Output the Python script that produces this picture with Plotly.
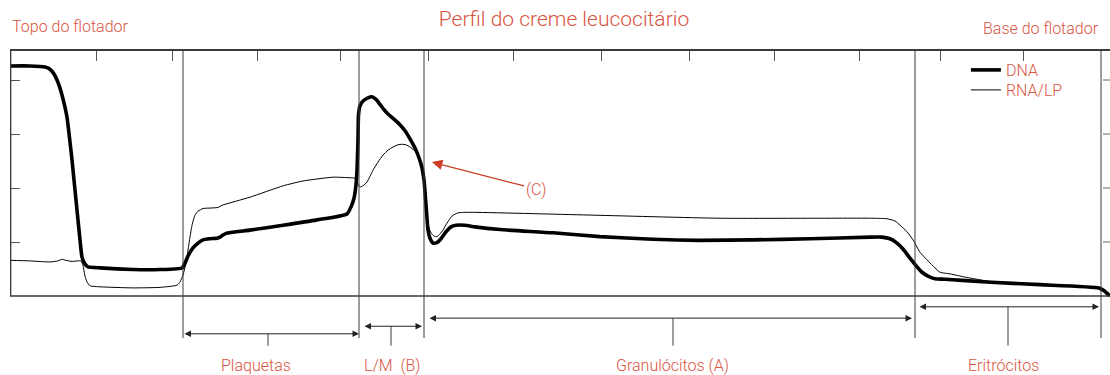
import plotly.graph_objects as go

# ---------------- data ----------------
# position along the float tube (axis units) and signal intensity
pos_dna = [0, 20, 35, 40, 44, 47, 50, 53, 57, 60, 62, 65, 67, 70, 72, 75, 78, 90, 123, 150, 172,
           175, 178, 183, 188, 193, 200, 207, 210, 213, 216, 240, 273, 307, 337, 341, 344, 346,
           347, 348, 348.5, 350, 353, 358, 362, 366, 370, 374, 378, 383, 389, 395, 400, 405,
           409, 412, 414, 415, 416, 417, 418, 420, 423, 427, 431, 436, 441, 446, 455, 465, 490,
           543, 590, 643, 690, 743, 800, 860, 872, 880, 887, 893, 900, 907, 912, 918, 925, 935,
           976, 1030, 1089, 1093, 1100]
dna = [4.26, 4.26, 4.24, 4.20, 4.11, 4.00, 3.85, 3.65, 3.31, 2.85, 2.52, 1.96, 1.59, 1.04, 0.72,
       0.59, 0.54, 0.52, 0.49, 0.49, 0.52, 0.61, 0.74, 0.89, 0.98, 1.04, 1.06, 1.07, 1.09, 1.13,
       1.16, 1.22, 1.31, 1.41, 1.52, 1.65, 1.81, 2.06, 2.33, 2.89, 3.35, 3.52, 3.61, 3.67, 3.69,
       3.64, 3.55, 3.45, 3.37, 3.29, 3.19, 3.06, 2.91, 2.74, 2.56, 2.37, 2.15, 1.93, 1.69, 1.44,
       1.22, 1.07, 0.98, 0.99, 1.06, 1.19, 1.28, 1.31, 1.31, 1.28, 1.23, 1.17, 1.10, 1.05, 1.03,
       1.04, 1.06, 1.09, 1.09, 1.06, 0.98, 0.87, 0.70, 0.54, 0.44, 0.37, 0.32, 0.31, 0.26, 0.21,
       0.15, 0.11, 0.0]

pos_rna = [0, 20, 40, 48, 52, 56, 62, 71, 73, 75, 77, 80, 90, 123, 150, 167, 170, 173, 176,
           178, 180, 182, 185, 188, 193, 202, 208, 212, 240, 273, 293, 323, 340, 345, 348, 350,
           353, 357, 363, 368, 373, 378, 383, 388, 392, 396, 400, 404, 407, 410, 412, 414, 415,
           416, 417, 419, 421, 424, 427, 430, 433, 437, 442, 448, 460, 577, 710, 863, 877, 885,
           890, 897, 903, 910, 918, 925, 930, 940, 955, 970, 980, 1030, 1089]
rna = [0.66, 0.65, 0.63, 0.65, 0.68, 0.66, 0.64, 0.65, 0.56, 0.37, 0.26, 0.19, 0.17, 0.15,
       0.16, 0.20, 0.26, 0.39, 0.61, 0.85, 1.09, 1.31, 1.50, 1.57, 1.62, 1.63, 1.64, 1.68, 1.83,
       2.04, 2.13, 2.20, 2.19, 2.18, 2.07, 2.02, 2.04, 2.11, 2.33, 2.48, 2.61, 2.70, 2.76, 2.80,
       2.81, 2.80, 2.76, 2.70, 2.65, 2.52, 2.39, 2.15, 1.96, 1.69, 1.46, 1.26, 1.17, 1.11, 1.10,
       1.15, 1.22, 1.35, 1.48, 1.54, 1.55, 1.50, 1.44, 1.44, 1.43, 1.39, 1.31, 1.19, 1.04, 0.81,
       0.65, 0.52, 0.44, 0.41, 0.35, 0.30, 0.27, 0.21, 0.15]

top_ticks = [86, 162, 247, 330, 418, 503, 591, 679, 764, 849, 930, 1013]
y_ticks = [1, 2, 3, 4]
boundaries = [173, 349, 414, 905, 1091]

regions = ["Plaquetas", "L/M  (B)", "Granulócitos (A)", "Eritrócitos"]
region_start = [173, 353, 418, 908]
region_end = [349, 412, 902, 1089]
region_level = [-0.70, -0.56, -0.41, -0.20]
region_mark = [258, 381, 663, 998]
region_label_x = [246, 382, 662, 993]

# ---------------- styling ----------------
RED = "#d9543f"
ARROW_RED = "#cc3b24"
FONT = "Roboto, 'Liberation Sans', sans-serif"
Y_TOP = 4.537
Y_BOTTOM = -1.0
X_MAX = 1100
LINE_BOTTOM = -0.78
MARK_BOTTOM = -0.92
LABEL_Y_PAPER = -0.0535
GRAY = "#3a3a3a"
SMALL = 16

fig = go.Figure()
fig.add_trace(go.Scatter(x=pos_rna, y=rna, mode="lines", name="RNA/LP", legend="legend2",
                         line=dict(color="black", width=1, shape="spline", smoothing=0.5)))
fig.add_trace(go.Scatter(x=pos_dna, y=dna, mode="lines", name="DNA", legend="legend",
                         line=dict(color="black", width=3.6, shape="spline", smoothing=0.5)))

shapes = []
for b in boundaries:
    shapes.append(dict(type="line", xref="x", yref="y", x0=b, x1=b, y0=LINE_BOTTOM, y1=Y_TOP,
                       line=dict(color=GRAY, width=1)))
# box: bottom and left borders
shapes.append(dict(type="line", xref="x", yref="y", x0=0, x1=X_MAX, y0=0, y1=0,
                   line=dict(color=GRAY, width=1.5)))
shapes.append(dict(type="line", xref="x", yref="y", x0=0.6, x1=0.6, y0=0, y1=Y_TOP,
                   line=dict(color=GRAY, width=1.5)))
# outer ticks on the right border
for t in y_ticks:
    shapes.append(dict(type="line", xref="x", yref="y", x0=1093, x1=1100, y0=t, y1=t,
                       line=dict(color="#666", width=1)))
# centre marks of the brackets
for m, lv in zip(region_mark, region_level):
    shapes.append(dict(type="line", xref="x", yref="y", x0=m, x1=m, y0=lv, y1=MARK_BOTTOM,
                       line=dict(color=GRAY, width=1)))

annotations = []
for s, e, lv in zip(region_start, region_end, region_level):
    annotations.append(dict(x=e, y=lv, ax=s, ay=lv, xref="x", yref="y", axref="x", ayref="y",
                            text="", showarrow=True, arrowhead=2, startarrowhead=2,
                            arrowside="end+start", arrowsize=1.3, startarrowsize=1.3,
                            arrowwidth=1, arrowcolor="#222", standoff=0, startstandoff=0))
for lab, lx in zip(regions, region_label_x):
    annotations.append(dict(x=lx, y=LABEL_Y_PAPER, xref="x", yref="paper", yanchor="middle",
                            text=lab, showarrow=False,
                            font=dict(family=FONT, size=SMALL, color=RED, weight=300)))

annotations.append(dict(x=422, y=2.48, ax=526, ay=1.98, xref="x", yref="y", axref="x",
                        ayref="y", text="(C)", showarrow=True, arrowhead=2, arrowsize=1.6,
                        arrowwidth=1.3, arrowcolor=ARROW_RED, standoff=0,
                        font=dict(family=FONT, size=SMALL, color=RED, weight=300)))

annotations.append(dict(x=0.0, y=1.0836, xref="paper", yref="paper", xanchor="left",
                        yanchor="middle", text="Topo do flotador", showarrow=False,
                        font=dict(family=FONT, size=SMALL, color=RED, weight=300)))
annotations.append(dict(x=0.9915, y=1.0769, xref="paper", yref="paper", xanchor="right",
                        yanchor="middle", text="Base do flotador", showarrow=False,
                        font=dict(family=FONT, size=SMALL, color=RED, weight=300)))

legend_style = dict(xanchor="left", yanchor="top", bgcolor="rgba(0,0,0,0)",
                    font=dict(family=FONT, size=SMALL, color=RED, weight=300))

fig.update_layout(
    width=1110, height=375, autosize=False,
    margin=dict(l=10, r=0, t=51, b=25, pad=0),
    paper_bgcolor="white", plot_bgcolor="white",
    title=dict(text="Perfil do creme leucocitário", x=564 / 1110, xanchor="center",
               xref="container", y=1 - 19 / 375, yanchor="middle", yref="container",
               font=dict(family=FONT, size=21, color=RED, weight=300)),
    xaxis=dict(range=[0, X_MAX], side="top", showline=True, linecolor=GRAY, linewidth=1.5,
               ticks="inside", tickvals=top_ticks, ticklen=10, tickcolor="#555", tickwidth=1,
               showticklabels=False, showgrid=False, zeroline=False, fixedrange=True),
    yaxis=dict(range=[Y_BOTTOM, Y_TOP], showline=False, ticks="inside", tickvals=y_ticks,
               ticklen=10, tickcolor="#555", tickwidth=1, showticklabels=False,
               showgrid=False, zeroline=False, fixedrange=True),
    showlegend=True,
    legend=dict(x=0.869, y=0.9933, **legend_style),
    legend2=dict(x=0.869, y=0.9264, **legend_style),
    shapes=shapes, annotations=annotations,
)

fig.write_html("out.html", config={"displayModeBar": False},
               post_script="document.body.style.margin='0';document.body.style.padding='0';")
